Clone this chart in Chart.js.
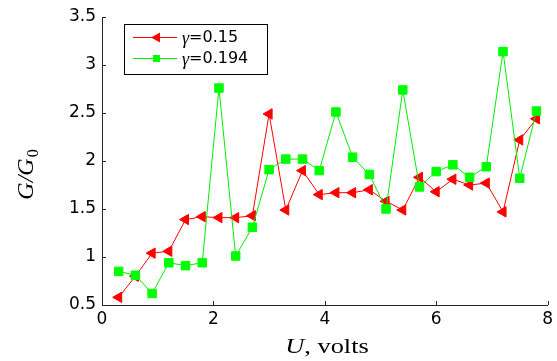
<!DOCTYPE html>
<html>
<head>
<meta charset="utf-8">
<script src="https://cdn.jsdelivr.net/npm/chart.js@4.4.0/dist/chart.umd.min.js"></script>
<style>
    html, body { margin: 0; padding: 0; background: #fff; }
    #wrap { width: 557px; height: 361px; }
</style>
</head>
<body>
<div id="wrap"><canvas id="conductanceChart" width="557" height="361"></canvas></div>
<script>
// bias voltage, volts
const voltage = [0.3, 0.6, 0.9, 1.2, 1.5, 1.8, 2.1, 2.4, 2.7, 3.0, 3.3, 3.6, 3.9,
                 4.2, 4.5, 4.8, 5.1, 5.4, 5.7, 6.0, 6.3, 6.6, 6.9, 7.2, 7.5, 7.8];
// G/G0 for gamma = 0.15
const gamma015 = [0.58, 0.80, 1.04, 1.06, 1.39, 1.42, 1.41, 1.41, 1.43, 2.49, 1.49, 1.90, 1.65,
                  1.67, 1.67, 1.70, 1.58, 1.49, 1.83, 1.68, 1.81, 1.75, 1.77, 1.47, 2.22, 2.44];
// G/G0 for gamma = 0.194
const gamma0194 = [0.85, 0.81, 0.62, 0.94, 0.91, 0.94, 2.76, 1.01, 1.31, 1.91, 2.02, 2.02, 1.90,
                   2.51, 2.04, 1.86, 1.50, 2.74, 1.73, 1.89, 1.96, 1.83, 1.94, 3.14, 1.82, 2.52];
const gammaLabels = ['0.15', '0.194'];
const xTicks = [0, 2, 4, 6, 8];
const yTicks = [0.5, 1, 1.5, 2, 2.5, 3, 3.5];

const axisColor = '#262626';
const tickFont = { family: 'DejaVu Sans', size: 17 };

function toPoints(ys) {
    return voltage.map((v, i) => ({ x: v, y: ys[i] }));
}

// matlab style ticks pointing into the plot
const inwardTicks = {
    id: 'inwardTicks',
    afterDatasetsDraw(chart) {
        const { ctx, chartArea: a, scales: { x, y } } = chart;
        ctx.save();
        ctx.strokeStyle = axisColor;
        ctx.lineWidth = 1;
        ctx.beginPath();
        x.ticks.forEach(t => {
            const px = Math.round(x.getPixelForValue(t.value)) + 0.5;
            ctx.moveTo(px, a.bottom);
            ctx.lineTo(px, a.bottom - 4);
        });
        y.ticks.forEach(t => {
            const py = Math.round(y.getPixelForValue(t.value)) + 0.5;
            ctx.moveTo(a.left, py);
            ctx.lineTo(a.left + 4, py);
        });
        ctx.stroke();
        ctx.restore();
    }
};

// axis titles with mixed italic / upright parts
const axisTitles = {
    id: 'axisTitles',
    afterDraw(chart) {
        const ctx = chart.ctx;
        ctx.save();
        ctx.fillStyle = '#000';
        ctx.textBaseline = 'alphabetic';

        // x title: "U, volts"
        const italic = 'italic 22px "Liberation Serif"';
        const upright = '22px "Liberation Serif"';
        ctx.font = italic;
        const wU = ctx.measureText('U').width;
        ctx.font = upright;
        const wRest = ctx.measureText(', volts').width;
        ctx.save();
        ctx.translate(327, 353);
        ctx.scale(1.2, 1);
        let sx = -(wU + wRest) / 2;
        ctx.font = italic;
        ctx.fillText('U', sx, 0);
        ctx.font = upright;
        ctx.fillText(', volts', sx + wU, 0);
        ctx.restore();

        // y title: "G/G0"
        ctx.save();
        ctx.translate(33, 175);
        ctx.rotate(-Math.PI / 2);
        ctx.font = 'italic 24px "Liberation Serif"';
        const wG = ctx.measureText('G/G').width;
        ctx.font = '16px "Liberation Serif"';
        const w0 = ctx.measureText('0').width;
        let sy = -(wG + w0) / 2;
        ctx.font = 'italic 24px "Liberation Serif"';
        ctx.fillText('G/G', sy, 0);
        ctx.font = '16px "Liberation Serif"';
        ctx.fillText('0', sy + wG + 1, 5);
        ctx.restore();

        ctx.restore();
    }
};

// legend box in the upper left corner of the axes
const boxLegend = {
    id: 'boxLegend',
    afterDraw(chart) {
        const ctx = chart.ctx;
        const ds = chart.data.datasets;
        const bx = 124, by = 24, bw = 143, bh = 50;
        ctx.save();
        ctx.fillStyle = '#fff';
        ctx.fillRect(bx, by, bw, bh);
        ctx.strokeStyle = '#000';
        ctx.lineWidth = 1;
        ctx.strokeRect(bx + 0.5, by + 0.5, bw, bh);

        const rows = [37.5, 58.5];
        ds.forEach((d, i) => {
            const y = rows[i];
            ctx.strokeStyle = d.borderColor;
            ctx.beginPath();
            ctx.moveTo(133, y);
            ctx.lineTo(177, y);
            ctx.stroke();
            ctx.fillStyle = d.backgroundColor;
            if (d.pointStyle === 'triangle') {
                ctx.beginPath();
                ctx.moveTo(151, y);
                ctx.lineTo(160, y - 5);
                ctx.lineTo(160, y + 5);
                ctx.closePath();
                ctx.fill();
            } else {
                ctx.fillRect(153, y - 3.5, 7, 7);
            }
            ctx.fillStyle = '#000';
            ctx.textBaseline = 'middle';
            ctx.font = 'italic 18px "Liberation Serif"';
            ctx.fillText('\u03b3', 182, y + 2);
            const wg = ctx.measureText('\u03b3').width;
            ctx.font = '16px "DejaVu Sans"';
            ctx.fillText('=' + gammaLabels[i], 182 + wg, y);
        });
        ctx.restore();
    }
};

const ctx = document.getElementById('conductanceChart').getContext('2d');
new Chart(ctx, {
    type: 'line',
    data: {
        datasets: [{
            label: '\u03b3=' + gammaLabels[0],
            data: toPoints(gamma015),
            borderColor: '#ff0000',
            backgroundColor: '#ff0000',
            borderWidth: 1,
            pointStyle: 'triangle',
            pointRotation: -90,
            pointRadius: 6,
            pointBorderWidth: 1,
            tension: 0,
            order: 1
        }, {
            label: '\u03b3=' + gammaLabels[1],
            data: toPoints(gamma0194),
            borderColor: '#00ee00',
            backgroundColor: '#00ff00',
            pointBorderColor: '#00ff00',
            borderWidth: 1,
            pointStyle: 'rect',
            pointRadius: 6,
            pointBorderWidth: 1,
            tension: 0,
            order: 0
        }]
    },
    options: {
        responsive: false,
        animation: false,
        devicePixelRatio: 1,
        layout: { padding: { top: 17, right: 9, left: 0, bottom: 0 } },
        plugins: {
            legend: { display: false },
            tooltip: { enabled: false }
        },
        scales: {
            x: {
                type: 'linear',
                min: 0,
                max: 8,
                afterBuildTicks: s => { s.ticks = xTicks.map(v => ({ value: v })); },
                afterFit: s => { s.height = 56; },
                grid: { display: false, drawTicks: false },
                border: { display: true, color: axisColor, width: 1 },
                ticks: { padding: 4, color: '#000', font: tickFont, maxRotation: 0, autoSkip: false,
                         callback: v => String(v) }
            },
            y: {
                type: 'linear',
                min: 0.5,
                max: 3.5,
                afterBuildTicks: s => { s.ticks = yTicks.map(v => ({ value: v })); },
                afterFit: s => { s.width = 102; },
                grid: { display: false, drawTicks: false },
                border: { display: true, color: axisColor, width: 1 },
                ticks: { padding: 6, color: '#000', font: tickFont, autoSkip: false,
                         callback: v => String(v) }
            }
        }
    },
    plugins: [inwardTicks, axisTitles, boxLegend]
});
</script>
</body>
</html>
